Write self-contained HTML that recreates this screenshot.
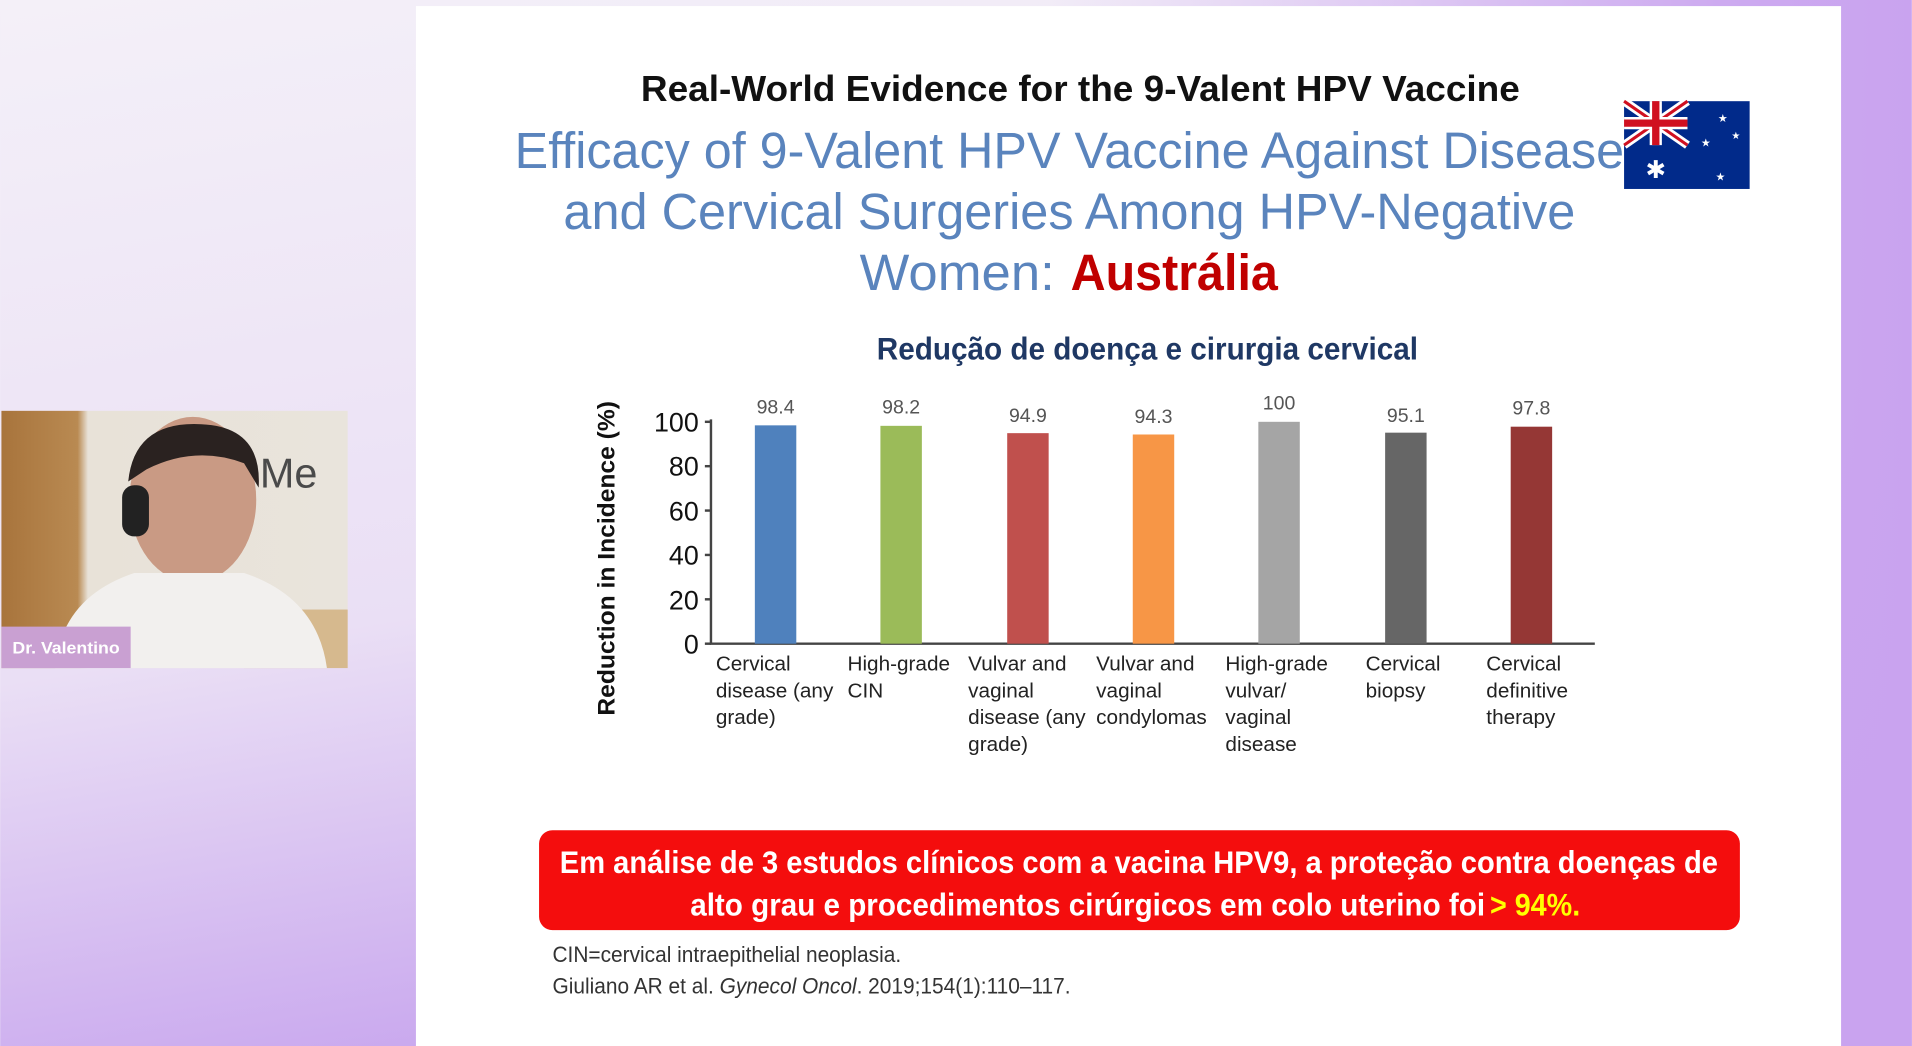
<!DOCTYPE html>
<html><head><meta charset="utf-8"><style>
html,body{margin:0;padding:0;width:1912px;height:1046px;overflow:hidden;background:#f3eef8}
svg{display:block}
text{font-family:"Liberation Sans",sans-serif}
</style></head><body>
<svg width="1912" height="1046" viewBox="0 0 1568 858" xmlns="http://www.w3.org/2000/svg">
<defs>
<linearGradient id="bgL" x1="0" y1="0" x2="0.3" y2="1">
<stop offset="0" stop-color="#f4f0f8"/><stop offset="0.6" stop-color="#eadff5"/><stop offset="1" stop-color="#c8a6ee"/></linearGradient>
<linearGradient id="bgH" x1="0" y1="0" x2="1" y2="0">
<stop offset="0" stop-color="#c9a3ef" stop-opacity="0"/><stop offset="0.55" stop-color="#c9a3ef" stop-opacity="0"/><stop offset="0.9" stop-color="#c9a3ef" stop-opacity="0.9"/><stop offset="1" stop-color="#c9a3ef" stop-opacity="1"/></linearGradient>
<linearGradient id="wall" x1="0" y1="0" x2="1" y2="0">
<stop offset="0" stop-color="#a8743c"/><stop offset="0.22" stop-color="#b98a52"/><stop offset="0.25" stop-color="#e8e2d8"/><stop offset="1" stop-color="#e9e4dc"/></linearGradient>
</defs>
<rect width="1568" height="858" fill="url(#bgL)"/>
<rect width="1568" height="858" fill="url(#bgH)"/>
<rect x="341" y="5" width="1169" height="853" fill="#ffffff"/>

<!-- webcam -->
<rect x="1" y="337" width="284" height="211" fill="url(#wall)"/>
<rect x="200" y="500" width="85" height="48" fill="#d6b98e"/>
<ellipse cx="158" cy="410" rx="52" ry="68" fill="#c99a84"/>
<path d="M105 395 Q110 345 165 348 Q215 350 212 400 L200 380 Q160 365 120 385 Z" fill="#2a2220"/>
<rect x="100" y="398" width="22" height="42" rx="10" fill="#222"/>
<path d="M45 548 Q50 490 110 470 L200 470 Q260 490 268 548 Z" fill="#f2f0ee"/>
<text x="213" y="400" font-size="34" fill="#4a4a4a">Me</text>
<rect x="1" y="514" width="106" height="34" fill="#c9a0d2"/>
<text x="10" y="536" font-size="14" font-weight="bold" fill="#fff" textLength="88" lengthAdjust="spacingAndGlyphs">Dr. Valentino</text>

<!-- titles -->
<text x="886" y="83" font-size="30" font-weight="bold" fill="#111" text-anchor="middle" textLength="721" lengthAdjust="spacingAndGlyphs">Real-World Evidence for the 9-Valent HPV Vaccine</text>
<text x="422" y="138" font-size="42" fill="#5a84bd" textLength="910" lengthAdjust="spacingAndGlyphs">Efficacy of 9-Valent HPV Vaccine Against Disease</text>
<text x="462" y="188" font-size="42" fill="#5a84bd" textLength="830" lengthAdjust="spacingAndGlyphs">and Cervical Surgeries Among HPV-Negative</text>
<text x="705" y="238" font-size="42" fill="#5a84bd" textLength="160" lengthAdjust="spacingAndGlyphs">Women:</text>
<text x="878" y="238" font-size="42" font-weight="bold" fill="#c00000" textLength="170" lengthAdjust="spacingAndGlyphs">Austrália</text>

<!-- flag -->
<g>
<rect x="1332" y="83" width="103" height="72" fill="#012a8a"/>
<path d="M1332 83 L1384 119 M1384 83 L1332 119" stroke="#fff" stroke-width="7"/>
<path d="M1332 83 L1384 119 M1384 83 L1332 119" stroke="#d01020" stroke-width="2.5"/>
<path d="M1358 83 V119 M1332 101 H1384" stroke="#fff" stroke-width="10"/>
<path d="M1358 83 V119 M1332 101 H1384" stroke="#d01020" stroke-width="6"/>
<text x="1358" y="146" font-size="20" fill="#fff" text-anchor="middle">✱</text>
<text x="1409" y="100" font-size="9" fill="#fff">★</text>
<text x="1395" y="120" font-size="9" fill="#fff">★</text>
<text x="1420" y="114" font-size="8" fill="#fff">★</text>
<text x="1407" y="148" font-size="9" fill="#fff">★</text>
</g>

<!-- chart title -->
<text x="941" y="295" font-size="26" font-weight="bold" fill="#1f3864" text-anchor="middle" textLength="444" lengthAdjust="spacingAndGlyphs">Redução de doença e cirurgia cervical</text>

<!-- axis -->
<text transform="translate(504,458) rotate(-90)" font-size="20" font-weight="bold" fill="#111" text-anchor="middle" textLength="258" lengthAdjust="spacingAndGlyphs">Reduction in Incidence (%)</text>
<g stroke="#444" stroke-width="2">
<line x1="583" y1="344" x2="583" y2="528"/>
<line x1="582" y1="528" x2="1308" y2="528"/>
<line x1="578" y1="346" x2="583" y2="346"/><line x1="578" y1="382.4" x2="583" y2="382.4"/>
<line x1="578" y1="418.8" x2="583" y2="418.8"/><line x1="578" y1="455.2" x2="583" y2="455.2"/>
<line x1="578" y1="491.6" x2="583" y2="491.6"/><line x1="578" y1="528" x2="583" y2="528"/>
</g>
<g font-size="22" fill="#111" text-anchor="end">
<text x="573" y="354">100</text><text x="573" y="390">80</text><text x="573" y="427">60</text>
<text x="573" y="463">40</text><text x="573" y="500">20</text><text x="573" y="536">0</text>
</g>
<!-- bars -->
<rect x="619" y="348.9" width="34" height="179.1" fill="#4f81bd"/>
<rect x="722" y="349.3" width="34" height="178.7" fill="#9bbb59"/>
<rect x="826" y="355.3" width="34" height="172.7" fill="#c0504d"/>
<rect x="929" y="356.4" width="34" height="171.6" fill="#f79646"/>
<rect x="1032" y="346" width="34" height="182" fill="#a5a5a5"/>
<rect x="1136" y="354.9" width="34" height="173.1" fill="#666666"/>
<rect x="1239" y="350" width="34" height="178" fill="#953735"/>
<g font-size="16" fill="#555" text-anchor="middle">
<text x="636" y="339">98.4</text><text x="739" y="339">98.2</text><text x="843" y="346">94.9</text>
<text x="946" y="347">94.3</text><text x="1049" y="336">100</text><text x="1153" y="346">95.1</text>
<text x="1256" y="340">97.8</text>
</g>
<g font-size="17" fill="#222">
<text x="587" y="550">Cervical</text><text x="587" y="572">disease (any</text><text x="587" y="594">grade)</text>
<text x="695" y="550">High-grade</text><text x="695" y="572">CIN</text>
<text x="794" y="550">Vulvar and</text><text x="794" y="572">vaginal</text><text x="794" y="594">disease (any</text><text x="794" y="616">grade)</text>
<text x="899" y="550">Vulvar and</text><text x="899" y="572">vaginal</text><text x="899" y="594">condylomas</text>
<text x="1005" y="550">High-grade</text><text x="1005" y="572">vulvar/</text><text x="1005" y="594">vaginal</text><text x="1005" y="616">disease</text>
<text x="1120" y="550">Cervical</text><text x="1120" y="572">biopsy</text>
<text x="1219" y="550">Cervical</text><text x="1219" y="572">definitive</text><text x="1219" y="594">therapy</text>
</g>

<!-- red box -->
<rect x="442" y="681" width="985" height="82" rx="11" fill="#f40d0d"/>
<text x="934" y="716" font-size="26" font-weight="bold" fill="#fff" text-anchor="middle" textLength="950" lengthAdjust="spacingAndGlyphs">Em análise de 3 estudos clínicos com a vacina HPV9, a proteção contra doenças de</text>
<text x="566" y="751" font-size="26" font-weight="bold" fill="#fff" textLength="652" lengthAdjust="spacingAndGlyphs">alto grau e procedimentos cirúrgicos em colo uterino  foi</text>
<text x="1222" y="751" font-size="26" font-weight="bold" fill="#ffff00" textLength="74" lengthAdjust="spacingAndGlyphs">&gt; 94%.</text>

<text x="453" y="789" font-size="18" fill="#333" textLength="286" lengthAdjust="spacingAndGlyphs">CIN=cervical intraepithelial neoplasia.</text>
<text x="453" y="815" font-size="18" fill="#333" textLength="425" lengthAdjust="spacingAndGlyphs">Giuliano AR et al. <tspan font-style="italic">Gynecol Oncol</tspan>. 2019;154(1):110–117.</text>
</svg>
</body></html>
